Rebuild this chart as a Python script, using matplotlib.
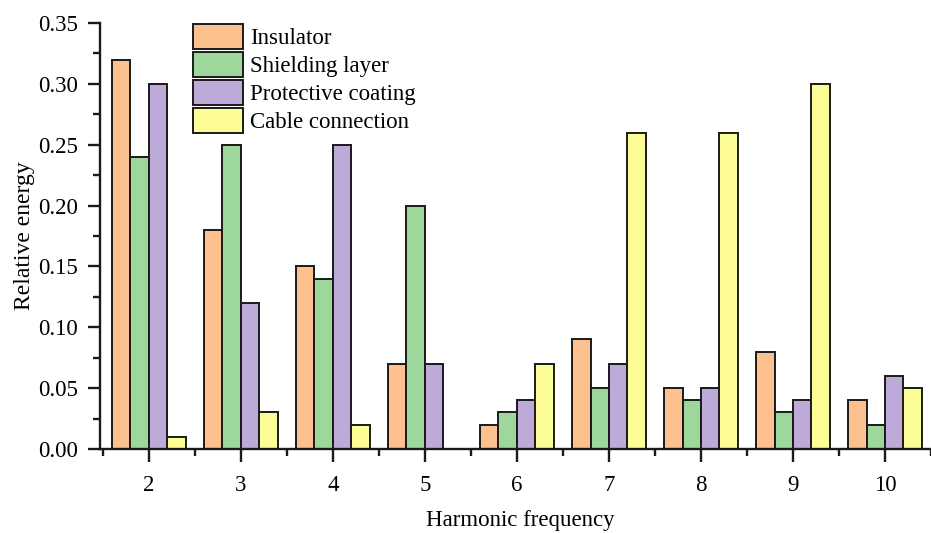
import numpy as np
import matplotlib
matplotlib.use('Agg')
import matplotlib.pyplot as plt

harmonics = [2, 3, 4, 5, 6, 7, 8, 9, 10]
insulator = [0.32, 0.18, 0.15, 0.07, 0.02, 0.09, 0.05, 0.08, 0.04]
shielding = [0.24, 0.25, 0.14, 0.20, 0.03, 0.05, 0.04, 0.03, 0.02]
protective = [0.30, 0.12, 0.25, 0.07, 0.04, 0.07, 0.05, 0.04, 0.06]
cable = [0.01, 0.03, 0.02, 0.00, 0.07, 0.26, 0.26, 0.30, 0.05]

series = [
    ('Insulator', insulator, '#fcc18f'),
    ('Shielding layer', shielding, '#9dd79b'),
    ('Protective coating', protective, '#bdaad8'),
    ('Cable connection', cable, '#fdfd98'),
]

plt.rcParams['font.family'] = ['Liberation Serif', 'DejaVu Serif']

fig = plt.figure(figsize=(9.31, 5.33), dpi=100)
ax = fig.add_axes([100/931, 84/533, 831/931, 426/533])

x = np.array(harmonics, dtype=float)
w = 0.2
for i, (name, vals, col) in enumerate(series):
    ax.bar(x + (i - 1.5) * w, vals, w, color=col, edgecolor='#1a1a1a',
           linewidth=1.4, label=name)

ax.set_xlim(1.47, 10.405)
ax.set_ylim(0, 0.35)
ax.set_xticks(harmonics)
ax.set_xticklabels([str(h) for h in harmonics])
ax.set_xticks(np.arange(1.5, 11, 1.0), minor=True)
yt = np.arange(0, 0.351, 0.05)
ax.set_yticks(yt)
ax.set_yticklabels([f'{v:.2f}' for v in yt])
ax.set_yticks(np.arange(0.025, 0.35, 0.05), minor=True)

for s in ['top', 'right']:
    ax.spines[s].set_visible(False)
for s in ['left', 'bottom']:
    ax.spines[s].set_linewidth(1.7)
    ax.spines[s].set_color('#1a1a1a')

ax.tick_params(axis='both', which='major', direction='out', width=1.7,
               length=9, labelsize=16.5, color='#1a1a1a')
ax.tick_params(axis='both', which='minor', direction='out', width=1.7,
               length=5, color='#1a1a1a')
ax.tick_params(axis='x', which='major', pad=10)
ax.tick_params(axis='y', which='major', pad=7)

ax.set_ylabel('Relative energy', fontsize=17, labelpad=2)
ax.set_xlabel('Harmonic frequency', fontsize=16.5, labelpad=10)
ax.xaxis.label.set_x(0.506)

ax.legend(loc='upper left', bbox_to_anchor=(193/931, 1 - 24/533),
          bbox_transform=fig.transFigure, frameon=False, fontsize=16.5,
          handlelength=2.2, handleheight=1.3, labelspacing=0.12,
          handletextpad=0.3, borderpad=0, borderaxespad=0)

fig.savefig('out.png', dpi=100)
